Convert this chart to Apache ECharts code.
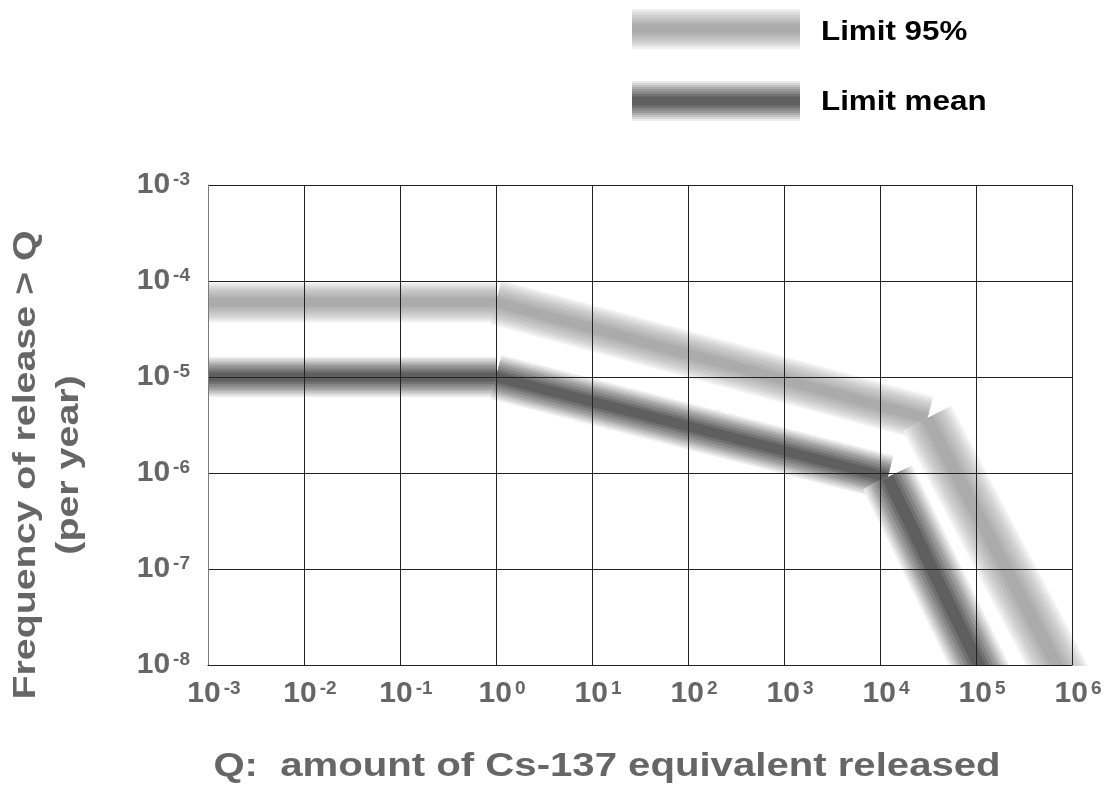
<!DOCTYPE html>
<html>
<head>
<meta charset="utf-8">
<script src="https://cdn.jsdelivr.net/npm/echarts@6/dist/echarts.min.js"></script>
<style>
  html, body { margin: 0; padding: 0; background: #ffffff; }
  #chart { width: 1114px; height: 787px; }
</style>
</head>
<body>
<div id="chart"></div>
<script>
// Corner points of each limit curve: release amount Q and frequency of release > Q
const limit95Q = [1e-3, 1, 3.1e4, 1e6];
const limit95Freq = [6e-5, 6e-5, 3.7e-6, 5e-9];
const limitMeanQ = [1e-3, 1, 1.2e4, 1.5e5];
const limitMeanFreq = [1e-5, 1e-5, 9e-7, 5e-9];

// Decade exponents shown on the axes
const xTickExponents = [-3, -2, -1, 0, 1, 2, 3, 4, 5, 6];
const yTickExponents = [-8, -7, -6, -5, -4, -3];

const seriesNames = ['Limit 95%', 'Limit mean'];
const xTitle = 'Q:  amount of Cs-137 equivalent released';
const yTitle = 'Frequency of release > Q\n(per year)';

// Each band is a stack of lines, widest/lightest first
const bandWidths = [40, 36, 32, 28, 24, 19, 14, 9];
// the sloping pieces of each band are drawn a little wider than the flat piece
const segmentWidthScale = [1, 1.12, 1.35];
const band95Colors = ['#f0f0f0', '#e4e4e4', '#d9d9d9', '#cfcfcf', '#c6c6c6', '#bdbdbd', '#b4b4b4', '#ababab'];
const bandMeanColors = ['#ebebeb', '#d6d6d6', '#c2c2c2', '#adadad', '#999999', '#858585', '#717171', '#5f5f5f'];

const GRID = { left: 208, top: 185, width: 864, height: 480 };
const LABEL_GREY = '#666666';
const FONT = '"Liberation Sans", Arial, Helvetica, sans-serif';
const NARROW_FONT = '"Liberation Sans Narrow", "Arial Narrow", "Liberation Sans", sans-serif';

function bandSeries(name, qs, fs, colors) {
  const out = [];
  for (let i = 0; i < qs.length - 1; i++) {
    colors.forEach(function (c, j) {
      out.push({
        type: 'line',
        name: name,
        silent: true,
        symbol: 'none',
        z: 2,
        data: [[qs[i], fs[i]], [qs[i + 1], fs[i + 1]]],
        lineStyle: { width: bandWidths[j] * segmentWidthScale[i], color: c, cap: 'butt', join: 'miter' }
      });
    });
  }
  return out;
}

function decadeLabel(exps) {
  return function (value) {
    const e = Math.round(Math.log10(value));
    if (exps.indexOf(e) < 0) return '';
    return '{b|10}{s|' + e + '}';
  };
}

const labelRich = {
  b: { fontSize: 30, lineHeight: 30, fontFamily: NARROW_FONT, fontWeight: 'bold', color: LABEL_GREY },
  s: { fontSize: 19, lineHeight: 19, fontFamily: NARROW_FONT, fontWeight: 'bold', color: LABEL_GREY,
       verticalAlign: 'top', padding: [0, 0, 0, 3] }
};

function legendSwatch(x, cy, len, colors) {
  return colors.map(function (c, j) {
    return {
      type: 'rect',
      shape: { x: x, y: cy - bandWidths[j] / 2, width: len, height: bandWidths[j] },
      style: { fill: c },
      silent: true
    };
  });
}

const chart = echarts.init(document.getElementById('chart'), null, { renderer: 'canvas' });

const option = {
  animation: false,
  backgroundColor: '#ffffff',
  grid: {
    left: GRID.left, top: GRID.top, width: GRID.width, height: GRID.height,
    containLabel: false, outerBoundsMode: 'none'
  },
  xAxis: {
    type: 'log', logBase: 10, min: 1e-3, max: 1e6, splitNumber: 9, z: 10,
    axisLine: { show: true, lineStyle: { color: '#222222', width: 1 } },
    axisTick: { show: false },
    splitLine: { show: true, lineStyle: { color: '#222222', width: 1 } },
    minorSplitLine: { show: false },
    axisLabel: {
      margin: 14, formatter: decadeLabel(xTickExponents), rich: labelRich,
      padding: [0, 0, 0, 12]
    }
  },
  yAxis: {
    type: 'log', logBase: 10, min: 1e-8, max: 1e-3, splitNumber: 5, z: 10,
    axisLine: { show: true, lineStyle: { color: '#7a7a7a', width: 1 } },
    axisTick: { show: false },
    splitLine: { show: true, lineStyle: { color: '#222222', width: 1 } },
    axisLabel: { margin: 18, formatter: decadeLabel(yTickExponents), rich: labelRich }
  },
  graphic: [
    // blank strip under the plot so the steep bands stop at the bottom axis
    {
      type: 'rect', z: 5, silent: true,
      shape: { x: GRID.left + 1, y: GRID.top + GRID.height + 1, width: 1114 - GRID.left, height: 40 },
      style: { fill: '#ffffff' }
    },
    { type: 'group', z: 20, children: legendSwatch(632, 29, 168, band95Colors) },
    { type: 'group', z: 20, children: legendSwatch(632, 101, 168, bandMeanColors) },
    {
      type: 'text', z: 20, x: 821, y: 32, scaleX: 1.12,
      style: { text: seriesNames[0], fontFamily: FONT, fontWeight: 'bold', fontSize: 28,
               fill: '#000000', align: 'left', verticalAlign: 'middle' }
    },
    {
      type: 'text', z: 20, x: 821, y: 102, scaleX: 1.12,
      style: { text: seriesNames[1], fontFamily: FONT, fontWeight: 'bold', fontSize: 28,
               fill: '#000000', align: 'left', verticalAlign: 'middle' }
    },
    {
      type: 'text', z: 20, x: 607, y: 767, scaleX: 1.216,
      style: { text: xTitle, fontFamily: FONT, fontWeight: 'bold', fontSize: 33,
               fill: LABEL_GREY, align: 'center', verticalAlign: 'middle' }
    },
    {
      type: 'text', z: 20, x: 48, y: 465, rotation: Math.PI / 2, scaleX: 1.23,
      style: { text: yTitle, fontFamily: FONT, fontWeight: 'bold', fontSize: 32, lineHeight: 43,
               fill: LABEL_GREY, align: 'center', verticalAlign: 'middle' }
    }
  ],
  series: [].concat(
    bandSeries(seriesNames[0], limit95Q, limit95Freq, band95Colors),
    bandSeries(seriesNames[1], limitMeanQ, limitMeanFreq, bandMeanColors)
  )
};

chart.setOption(option);
</script>
</body>
</html>
